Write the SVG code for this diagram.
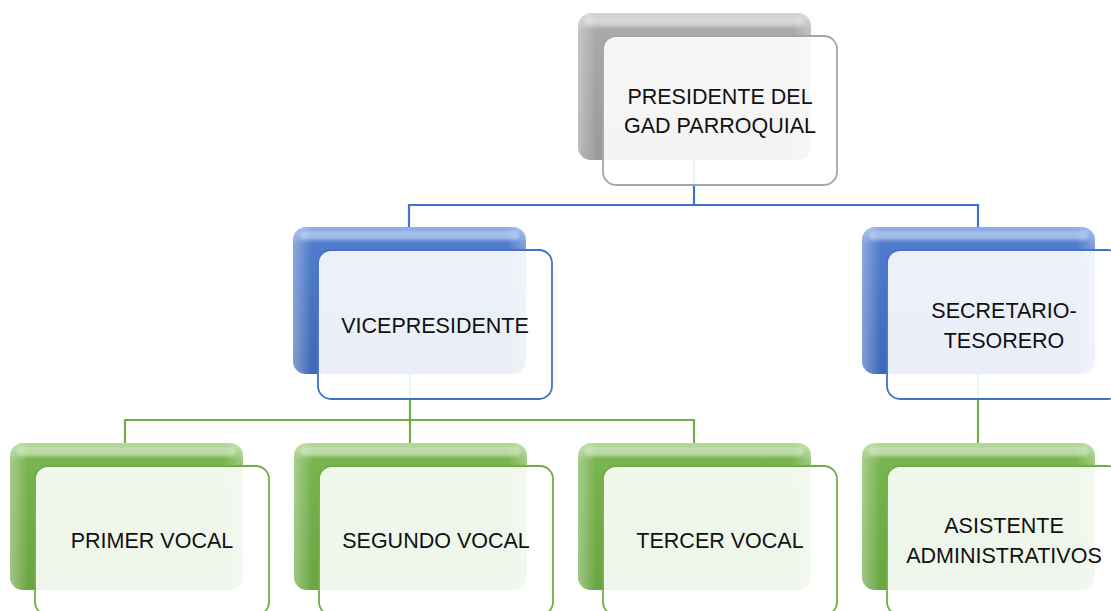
<svg xmlns="http://www.w3.org/2000/svg" width="1111" height="611" viewBox="0 0 1111 611">
<defs>
<linearGradient id="gGray" x1="0" y1="0" x2="0" y2="1"><stop offset="0" stop-color="#d4d4d4"/><stop offset="0.12" stop-color="#a9a9a9"/><stop offset="1" stop-color="#9a9a9a"/></linearGradient>
<linearGradient id="gBlue" x1="0" y1="0" x2="0" y2="1"><stop offset="0" stop-color="#8fb0ea"/><stop offset="0.12" stop-color="#4f7ccc"/><stop offset="1" stop-color="#3e69b8"/></linearGradient>
<linearGradient id="gGreen" x1="0" y1="0" x2="0" y2="1"><stop offset="0" stop-color="#b3db98"/><stop offset="0.12" stop-color="#78b44f"/><stop offset="1" stop-color="#6aa542"/></linearGradient>
<linearGradient id="gSide" x1="0" y1="0" x2="1" y2="0"><stop offset="0" stop-color="#fff" stop-opacity="0.35"/><stop offset="0.08" stop-color="#fff" stop-opacity="0"/><stop offset="0.92" stop-color="#fff" stop-opacity="0"/><stop offset="1" stop-color="#fff" stop-opacity="0.3"/></linearGradient>
<filter id="blur" x="-10%" y="-50%" width="120%" height="200%"><feGaussianBlur stdDeviation="1.5"/></filter>
</defs>
<style>
.back{stroke:none}
.hl{fill:#ffffff;opacity:0.35;filter:url(#blur)}
.side{fill:url(#gSide)}
.front{fill:#ffffff;fill-opacity:0.89;stroke-width:1.8}
.fg{stroke:#a5a5a5}.fb{stroke:#4472c4}.fgr{stroke:#70ad47}
.lbl{font-family:"Liberation Sans",Arial,sans-serif;font-size:21.5px;fill:#111;text-anchor:middle}
.cb{fill:none;stroke:#4472c4;stroke-width:2.2}
.cg{fill:none;stroke:#70ad47;stroke-width:2.2}
</style>
<g id="connectors">
<path class="cb" d="M694 158 V205 M409 205 H978 M409 204 V228 M978 204 V228"/>
<path class="cg" d="M410 372 V420 M125 420 H694 M125 419 V444 M410 419 V444 M694 419 V444 M978 372 V444"/>
</g>
<g id="n-presidente">
<rect class="back" x="578" y="13" width="233" height="147" rx="13" fill="url(#gGray)"/>
<rect class="side" x="578" y="13" width="233" height="147" rx="13"/>
<rect class="hl" x="585" y="17" width="219" height="9" rx="4"/>
<rect class="front fg" x="603" y="36" width="234" height="149" rx="13"/>
<text class="lbl" x="720" y="104">PRESIDENTE DEL</text>
<text class="lbl" x="720" y="133">GAD PARROQUIAL</text>
</g>
<g id="n-vicepresidente">
<rect class="back" x="293" y="227" width="233" height="147" rx="13" fill="url(#gBlue)"/>
<rect class="side" x="293" y="227" width="233" height="147" rx="13"/>
<rect class="hl" x="300" y="231" width="219" height="9" rx="4"/>
<rect class="front fb" x="318" y="250" width="234" height="149" rx="13"/>
<text class="lbl" x="435" y="333">VICEPRESIDENTE</text>
</g>
<g id="n-secretario">
<rect class="back" x="862" y="227" width="233" height="147" rx="13" fill="url(#gBlue)"/>
<rect class="side" x="862" y="227" width="233" height="147" rx="13"/>
<rect class="hl" x="869" y="231" width="219" height="9" rx="4"/>
<rect class="front fb" x="887" y="250" width="234" height="149" rx="13"/>
<text class="lbl" x="1004" y="318">SECRETARIO-</text>
<text class="lbl" x="1004" y="348">TESORERO</text>
</g>
<g id="n-primer">
<rect class="back" x="10" y="443" width="233" height="147" rx="13" fill="url(#gGreen)"/>
<rect class="side" x="10" y="443" width="233" height="147" rx="13"/>
<rect class="hl" x="17" y="447" width="219" height="9" rx="4"/>
<rect class="front fgr" x="35" y="466" width="234" height="149" rx="13"/>
<text class="lbl" x="152" y="548">PRIMER VOCAL</text>
</g>
<g id="n-segundo">
<rect class="back" x="294" y="443" width="233" height="147" rx="13" fill="url(#gGreen)"/>
<rect class="side" x="294" y="443" width="233" height="147" rx="13"/>
<rect class="hl" x="301" y="447" width="219" height="9" rx="4"/>
<rect class="front fgr" x="319" y="466" width="234" height="149" rx="13"/>
<text class="lbl" x="436" y="548">SEGUNDO VOCAL</text>
</g>
<g id="n-tercer">
<rect class="back" x="578" y="443" width="233" height="147" rx="13" fill="url(#gGreen)"/>
<rect class="side" x="578" y="443" width="233" height="147" rx="13"/>
<rect class="hl" x="585" y="447" width="219" height="9" rx="4"/>
<rect class="front fgr" x="603" y="466" width="234" height="149" rx="13"/>
<text class="lbl" x="720" y="548">TERCER VOCAL</text>
</g>
<g id="n-asistente">
<rect class="back" x="862" y="443" width="233" height="147" rx="13" fill="url(#gGreen)"/>
<rect class="side" x="862" y="443" width="233" height="147" rx="13"/>
<rect class="hl" x="869" y="447" width="219" height="9" rx="4"/>
<rect class="front fgr" x="887" y="466" width="234" height="149" rx="13"/>
<text class="lbl" x="1004" y="533">ASISTENTE</text>
<text class="lbl" x="1004" y="563">ADMINISTRATIVOS</text>
</g>
</svg>
